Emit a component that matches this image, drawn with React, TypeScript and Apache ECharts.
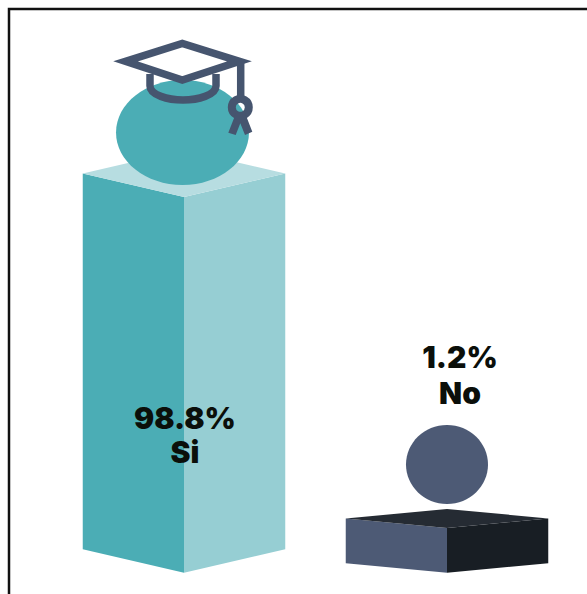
import React, { useEffect, useRef } from "react";
import * as echarts from "echarts";

const categories = ["Si", "No"];
const percentages = [98.8, 1.2];
const tickLabels = ["98.8%", "1.2%"];

const FACE_LEFT = ["#4BADB5", "#4D5A75"];
const FACE_RIGHT = ["#96CED3", "#181E24"];
const FACE_TOP = ["#B7DDE1", "#252B33"];
const DEPTH = [23.5, 9.5];
const ORB = [
  { dx: -1.5, dy: -64.5, rx: 66.5, ry: 52.5 },
  { dx: 0, dy: -63.5, rx: 41, ry: 39.5 },
];
const LABEL_Y = [
  [418, 452],
  [357, 393],
];
const INK = "#0B0F0A";
const CAP = "#46556F";

function renderBar(params: any, api: any) {
  const i = params.dataIndex;
  const top = api.coord([api.value(0), api.value(1)]);
  const base = api.coord([api.value(0), -12]);
  const half = api.size([1, 0])[0] * 0.385;
  const d = DEPTH[i];
  const cx = top[0];
  const poly = (points: number[][], fill: string) => ({
    type: "polygon",
    shape: { points },
    style: { fill },
  });
  const text = (t: string, y: number) => ({
    type: "text",
    z2: 20,
    style: {
      text: t,
      x: cx + (i === 0 ? 1 : 13),
      y,
      fill: INK,
      font: "900 30px Inter, 'Noto Sans', sans-serif",
      align: "center",
      verticalAlign: "middle",
    },
  });
  return {
    type: "group",
    children: [
      poly(
        [
          [cx - half, top[1] - d],
          [cx, top[1]],
          [cx, base[1]],
          [cx - half, base[1] - d],
        ],
        FACE_LEFT[i]
      ),
      poly(
        [
          [cx, top[1]],
          [cx + half, top[1] - d],
          [cx + half, base[1] - d],
          [cx, base[1]],
        ],
        FACE_RIGHT[i]
      ),
      poly(
        [
          [cx - half, top[1] - d],
          [cx, top[1] - 2 * d],
          [cx + half, top[1] - d],
          [cx, top[1]],
        ],
        FACE_TOP[i]
      ),
      {
        type: "ellipse",
        shape: { cx: cx + ORB[i].dx, cy: top[1] + ORB[i].dy, rx: ORB[i].rx, ry: ORB[i].ry },
        style: { fill: FACE_LEFT[i] },
      },
      text(tickLabels[i], LABEL_Y[i][0]),
      text(categories[i], LABEL_Y[i][1]),
    ],
  };
}

const capStroke = { stroke: CAP, lineWidth: 7.5, fill: "none", lineJoin: "miter", miterLimit: 10 };

const hat: any[] = [
  {
    type: "polygon",
    shape: { points: [[125.5, 61.3], [182.3, 43.5], [239.5, 61.3], [182.3, 80]] },
    style: capStroke,
  },
  { type: "polyline", shape: { points: [[150, 74], [150, 86]] }, style: capStroke },
  { type: "polyline", shape: { points: [[216, 74], [216, 86]] }, style: capStroke },
  {
    type: "bezierCurve",
    shape: { x1: 150, y1: 86, cpx1: 150, cpy1: 95, cpx2: 168, cpy2: 100, x2: 183, y2: 100 },
    style: capStroke,
  },
  {
    type: "bezierCurve",
    shape: { x1: 183, y1: 100, cpx1: 198, cpy1: 100, cpx2: 216, cpy2: 95, x2: 216, y2: 86 },
    style: capStroke,
  },
  { type: "polyline", shape: { points: [[240.7, 61], [240.7, 99]] }, style: capStroke },
  { type: "circle", shape: { cx: 240.3, cy: 107.3, r: 8.5 }, style: { ...capStroke, lineWidth: 8 } },
  {
    type: "polygon",
    shape: {
      points: [[236, 113], [228.3, 132.7], [235.7, 135], [240.3, 123.3], [245, 135], [252.3, 131.7], [245, 113]],
    },
    style: { fill: CAP },
  },
];

export default function App() {
  const ref = useRef<HTMLDivElement>(null);
  useEffect(() => {
    document.body.style.margin = "0";
    document.body.style.overflow = "hidden";
    const chart = echarts.init(ref.current!, undefined, { renderer: "svg" });
    chart.setOption({
      animation: false,
      backgroundColor: "#ffffff",
      grid: { left: 52.5, width: 526, top: 23.4, height: 549.3 },
      xAxis: { type: "category", data: categories, show: false },
      yAxis: { type: "value", min: -12, max: 150, show: false },
      series: [
        {
          type: "custom",
          renderItem: renderBar,
          encode: { x: 0, y: 1 },
          data: percentages.map((v, i) => [i, v]),
          clip: false,
        },
      ],
      graphic: {
        elements: [
          {
            type: "rect",
            shape: { x: 9, y: 9, width: 800, height: 800 },
            style: { fill: "none", stroke: "#111111", lineWidth: 2.5 },
            z: 5,
          },
          { type: "group", z: 10, children: hat.map((h) => ({ ...h, z: 10 })) },
        ],
      },
    });
    return () => chart.dispose();
  }, []);
  return <div ref={ref} style={{ position: "fixed", left: 0, top: 0, width: 587, height: 594 }} />;
}
